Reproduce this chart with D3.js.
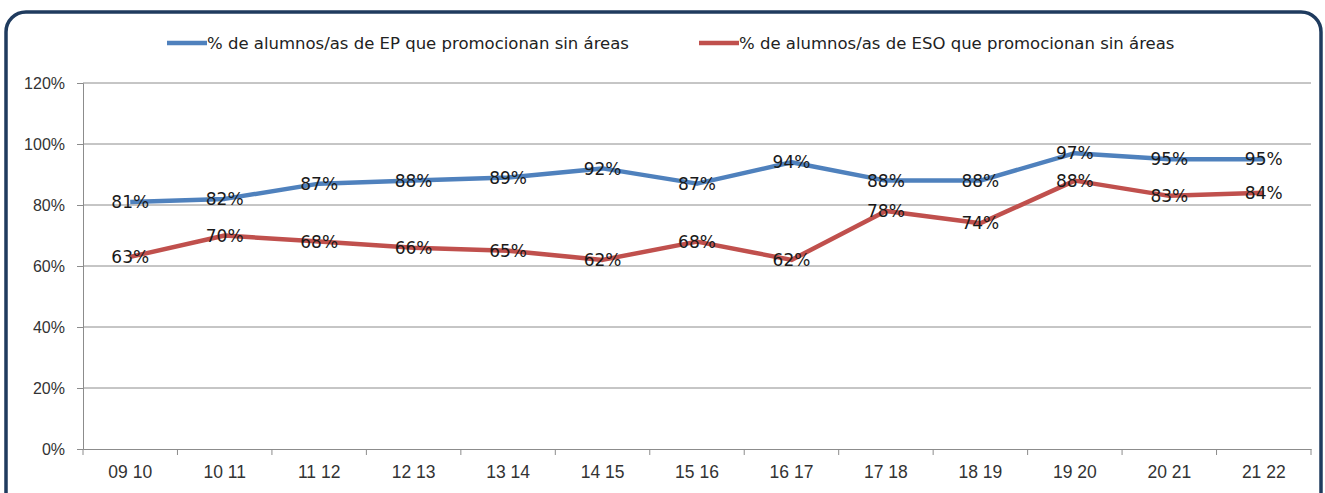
<!DOCTYPE html>
<html>
<head>
<meta charset="utf-8">
<script src="https://cdn.jsdelivr.net/npm/d3@7"></script>
<style>
  body { margin: 0; background: #fff; }
  svg { display: block; font-family: "DejaVu Sans", sans-serif; }
</style>
</head>
<body>
<div id="chart"></div>
<script>
  let categories = ["09 10", "10 11", "11 12", "12 13", "13 14", "14 15", "15 16", "16 17", "17 18", "18 19", "19 20", "20 21", "21 22"];
  let epValues = [81, 82, 87, 88, 89, 92, 87, 94, 88, 88, 97, 95, 95];
  let esoValues = [63, 70, 68, 66, 65, 62, 68, 62, 78, 74, 88, 83, 84];
  let seriesNames = ["% de alumnos/as de EP que promocionan sin áreas", "% de alumnos/as de ESO que promocionan sin áreas"];
  let yTicks = [0, 20, 40, 60, 80, 100, 120];

  let colors = ["#4f81bd", "#c0504d"];
  let W = 1325, H = 493;
  let margin = { top: 83, right: 14, bottom: 44, left: 83 };
  let width = W - margin.left - margin.right,
    height = H - margin.top - margin.bottom;

  const svg = d3.select("#chart").append("svg")
    .attr("width", W)
    .attr("height", H);

  // rounded frame (bottom edge falls outside the picture)
  svg.append("rect")
    .attr("x", 6).attr("y", 12)
    .attr("width", W - 10).attr("height", H + 20)
    .attr("rx", 20)
    .attr("fill", "#fff")
    .attr("stroke", "#1f3b5e")
    .attr("stroke-width", 3.5);

  let x = d3.scaleBand().domain(categories).range([0, width]);
  let y = d3.scaleLinear().domain([0, 120]).range([height, 0]);

  const g = svg.append("g")
    .attr("transform", "translate(" + margin.left + "," + margin.top + ")");

  // gridlines
  g.append("g")
    .selectAll("line")
    .data(yTicks.slice(1))
    .join("line")
    .attr("x1", 0).attr("x2", width)
    .attr("y1", d => y(d)).attr("y2", d => y(d))
    .attr("stroke", "#8c8c8c")
    .attr("stroke-width", 1);

  // y axis
  const yAxis = g.append("g")
    .call(d3.axisLeft(y).tickValues(yTicks).tickFormat(d => d + "%").tickSize(6).tickPadding(12));
  yAxis.select(".domain").attr("stroke", "#8c8c8c");
  yAxis.selectAll(".tick line").attr("stroke", "#8c8c8c");
  yAxis.selectAll("text").attr("font-size", 16).attr("fill", "#333");

  // x axis, ticks between categories
  const xAxis = g.append("g")
    .attr("transform", "translate(0," + height + ")")
    .call(d3.axisBottom(x).tickSize(0).tickPadding(17));
  xAxis.select(".domain").attr("stroke", "#8c8c8c");
  xAxis.selectAll("text").attr("font-size", 17.5).attr("fill", "#333");
  xAxis.selectAll(".sep")
    .data(d3.range(categories.length + 1))
    .join("line")
    .attr("class", "sep")
    .attr("x1", i => i * x.step()).attr("x2", i => i * x.step())
    .attr("y1", 0).attr("y2", 6)
    .attr("stroke", "#8c8c8c");

  let line = d3.line()
    .x((d, i) => x(categories[i]) + x.bandwidth() / 2)
    .y(d => y(d));

  [epValues, esoValues].forEach(function (vals, k) {
    g.append("path")
      .datum(vals)
      .attr("fill", "none")
      .attr("stroke", colors[k])
      .attr("stroke-width", 4.5)
      .attr("stroke-linejoin", "round")
      .attr("d", line);
  });

  [epValues, esoValues].forEach(function (vals) {
    g.append("g")
      .selectAll("text")
      .data(vals)
      .join("text")
      .attr("x", (d, i) => x(categories[i]) + x.bandwidth() / 2)
      .attr("y", d => y(d))
      .attr("dy", "0.36em")
      .attr("text-anchor", "middle")
      .attr("font-size", 17)
      .attr("fill", "#1a1a1a")
      .text(d => d + "%");
  });

  // legend
  let legendX = [167, 699];
  const legend = svg.append("g");
  seriesNames.forEach(function (name, k) {
    legend.append("line")
      .attr("x1", legendX[k]).attr("x2", legendX[k] + 40)
      .attr("y1", 43).attr("y2", 43)
      .attr("stroke", colors[k])
      .attr("stroke-width", 4.5);
    legend.append("text")
      .attr("x", legendX[k] + 40)
      .attr("y", 43)
      .attr("dy", "0.35em")
      .attr("font-size", 16.5)
      .attr("fill", "#222")
      .text(name);
  });
</script>
</body>
</html>
